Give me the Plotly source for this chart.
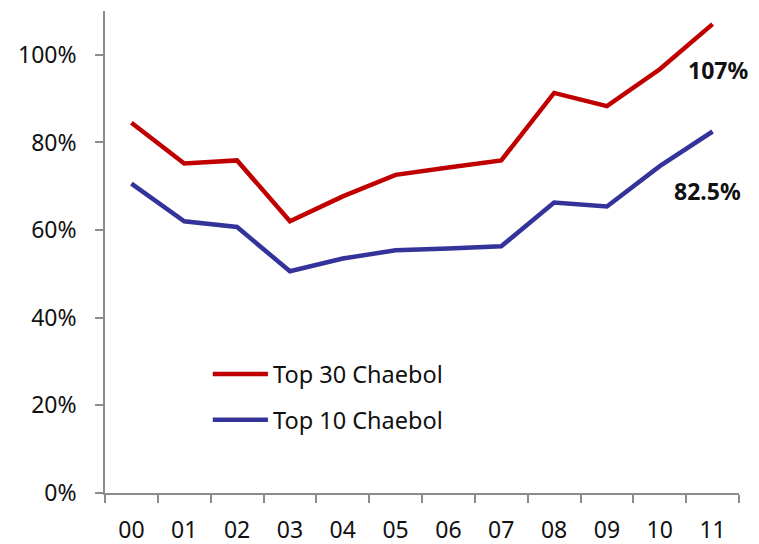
import plotly.graph_objects as go

# Years (two-digit) and ratios in percent
years = ["00", "01", "02", "03", "04", "05", "06", "07", "08", "09", "10", "11"]
top30 = [84.5, 75.2, 75.9, 62.0, 67.7, 72.6, 74.3, 75.9, 91.3, 88.3, 96.7, 107.0]
top10 = [70.6, 62.0, 60.7, 50.6, 53.5, 55.4, 55.8, 56.3, 66.3, 65.4, 74.6, 82.5]
series_names = ["Top 30 Chaebol", "Top 10 Chaebol"]
colors = ["#C00000", "#333399"]
y_ticks = [0, 20, 40, 60, 80, 100]

FONT = "Noto Sans"
AXIS = "#8C8C8C"

fig = go.Figure()
for name, vals, col in zip(series_names, [top30, top10], colors):
    fig.add_trace(go.Scatter(
        x=years, y=vals, mode="lines", name=name,
        line=dict(color=col, width=4.5), showlegend=False,
    ))

# End-point value labels
for vals, xs, ys in [(top30, 5, -46), (top10, -5, -59)]:
    fig.add_annotation(
        x=years[-1], y=vals[-1], text=f"<b>{vals[-1]:g}%</b>", showarrow=False,
        xshift=xs, yshift=ys, font=dict(family=FONT, size=23, color="#111"),
    )

# Hand-placed legend (long line samples)
leg_y = [0.247, 0.152]
for name, col, ly in zip(series_names, colors, leg_y):
    fig.add_shape(type="line", xref="paper", yref="paper",
                  x0=0.170, x1=0.257, y0=ly, y1=ly,
                  line=dict(color=col, width=4.5))
    fig.add_annotation(x=0.262, y=ly, xref="paper", yref="paper",
                       text=name, showarrow=False, xanchor="left",
                       yanchor="middle",
                       font=dict(family=FONT, size=23.5, color="#111"))

fig.update_layout(
    width=759, height=544,
    margin=dict(l=105, r=20, t=11, b=51, autoexpand=False),
    paper_bgcolor="white", plot_bgcolor="white",
    font=dict(family=FONT, size=23, color="#111"),
    xaxis=dict(
        type="category", range=[-0.5, 11.5], tickson="boundaries",
        ticks="outside", ticklen=8, tickcolor=AXIS, tickwidth=1.5,
        showline=True, linecolor=AXIS, linewidth=1.5, showgrid=False,
        ticklabelstandoff=16, automargin=False,
    ),
    yaxis=dict(
        range=[0, 110], tickvals=y_ticks,
        ticktext=[f"{v}%" for v in y_ticks],
        ticks="outside", ticklen=8, tickcolor=AXIS, tickwidth=1.5,
        showline=True, linecolor=AXIS, linewidth=1.5, showgrid=False,
        zeroline=False, ticklabelstandoff=14, automargin=False,
    ),
)

fig.write_html("out.html")
